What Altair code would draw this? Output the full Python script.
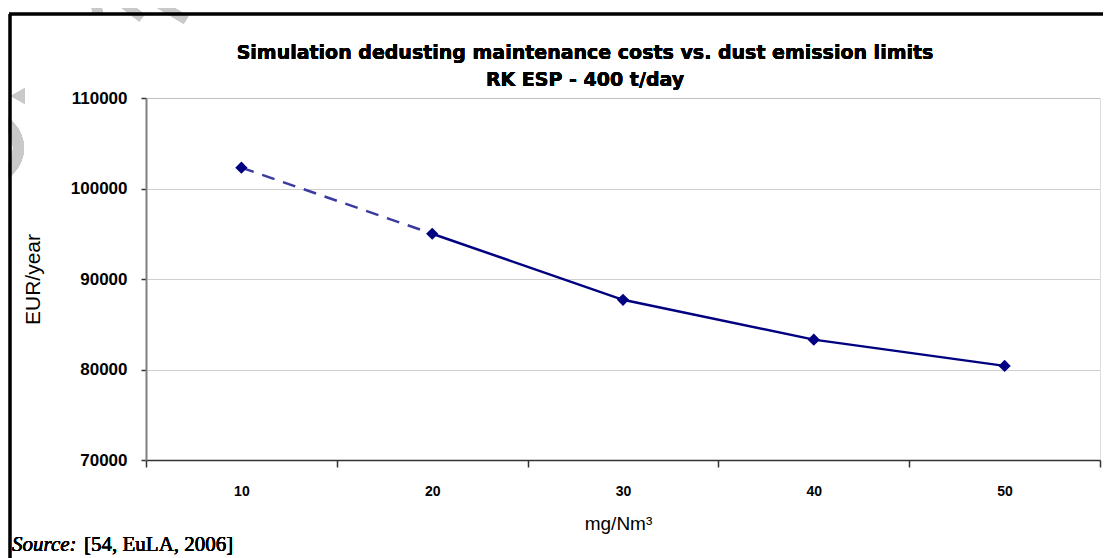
import altair as alt
import pandas as pd

x_labels = ["10", "20", "30", "40", "50"]
costs = [102300, 95000, 87700, 83300, 80400]
y_ticks = [70000, 80000, 90000, 100000, 110000]

title_line1 = "Simulation dedusting maintenance costs vs. dust emission limits"
title_line2 = "RK ESP - 400 t/day"
x_title = "mg/Nm³"
y_title = "EUR/year"
source_italic = "Source:"
source_rest = "[54, EuLA, 2006]"

df = pd.DataFrame({"x": x_labels, "cost": costs})
dash_df = df.iloc[:2]
solid_df = df.iloc[1:]

W, H = 954, 362
FONT = "Liberation Sans"
WM = "#c9c9c9"

xenc = alt.X(
    "x:N", sort=x_labels, bandPosition=0.5,
    scale=alt.Scale(type="band", domain=x_labels, paddingInner=0, paddingOuter=0),
    axis=alt.Axis(title=x_title, tickBand="extent", labelAngle=0, labelFont=FONT,
                  labelFontSize=14, labelFontWeight="bold", labelColor="#000",
                  tickSize=7, tickColor="#333", tickWidth=1.5, labelPadding=17,
                  domainColor="#333", domainWidth=1.5, grid=False,
                  titleFont=FONT, titleFontSize=19, titleFontWeight="normal",
                  titleColor="#000", titleX=W / 2 - 5, titleY=63, titleBaseline="middle",
                  titleAlign="center"),
)
yenc = alt.Y(
    "cost:Q",
    scale=alt.Scale(domain=[70000, 110000], nice=False, zero=False),
    axis=alt.Axis(title=y_title, values=y_ticks, format="d", labelFont=FONT,
                  labelFontSize=17, labelFontWeight="bold", labelColor="#000",
                  tickSize=5, tickColor="#333", tickWidth=1.5, labelPadding=14,
                  domainColor="#808080", domainWidth=2,
                  grid=True, gridColor="#a0a0a0", gridDash=[1, 1], gridWidth=1,
                  titleFont=FONT, titleFontSize=21, titleFontWeight="normal",
                  titleColor="#000", titleX=-113, titleY=H / 2, titleAngle=270,
                  titleAlign="center", titleBaseline="middle"),
)

# faint watermark fragments visible at the top-left corner of the page
wm_arc = alt.Chart(df).mark_arc(theta=0, theta2=3.1416, radius=36, radius2=25,
                                color=WM).encode(x=alt.value(-158), y=alt.value(50))
wm_tri = alt.Chart(df).mark_point(shape="triangle-left", filled=True, size=260,
                                  color=WM, opacity=1).encode(x=alt.value(-128), y=alt.value(-2))
wm_s1 = alt.Chart(df).mark_rule(color=WM, strokeWidth=10).encode(
    x=alt.value(-52), x2=alt.value(-48), y=alt.value(-104), y2=alt.value(-84))
wm_s2 = alt.Chart(df).mark_rule(color=WM, strokeWidth=9).encode(
    x=alt.value(-30), x2=alt.value(-4), y=alt.value(-100), y2=alt.value(-80))
wm_s3 = alt.Chart(df).mark_rule(color=WM, strokeWidth=9).encode(
    x=alt.value(0), x2=alt.value(40), y=alt.value(-102), y2=alt.value(-78))

dashed = alt.Chart(dash_df).mark_line(color="#3a3aa0", strokeWidth=2.5,
                                      strokeDash=[13, 9]).encode(x=xenc, y=yenc)
solid = alt.Chart(solid_df).mark_line(color="#000080", strokeWidth=2.5).encode(x=xenc, y=yenc)
points = alt.Chart(df).mark_point(shape="diamond", filled=True, size=150,
                                  color="#000080", opacity=1).encode(x=xenc, y=yenc)

border_left = alt.Chart(df).mark_rule(color="#000", strokeWidth=2.5).encode(
    x=alt.value(-136), y=alt.value(-84), y2=alt.value(470))
border_top = alt.Chart(df).mark_rule(color="#000", strokeWidth=2.5).encode(
    x=alt.value(-137), x2=alt.value(970), y=alt.value(-84))

t1 = alt.Chart(df).mark_text(text=title_line1, font="DejaVu Sans", fontSize=19, fontWeight="bold",
                             align="center", baseline="middle", color="#000").encode(
    x=alt.value(439), y=alt.value(-45))
t2 = alt.Chart(df).mark_text(text=title_line2, font="DejaVu Sans", fontSize=19, fontWeight="bold",
                             align="center", baseline="middle", color="#000").encode(
    x=alt.value(439), y=alt.value(-18))

src1 = alt.Chart(df).mark_text(text=source_italic, font="Liberation Serif", fontSize=21,
                               fontStyle="italic", align="left", baseline="alphabetic",
                               color="#000").encode(x=alt.value(-134), y=alt.value(453))
src2 = alt.Chart(df).mark_text(text=source_rest, font="Liberation Serif", fontSize=21,
                               align="left", baseline="alphabetic",
                               color="#000").encode(x=alt.value(-62), y=alt.value(453))

chart = alt.layer(wm_arc, wm_tri, wm_s1, wm_s2, wm_s3, dashed, solid, points,
                  border_left, border_top, t1, t2, src1, src2).properties(
    width=W, height=H,
    autosize=alt.AutoSizeParams(type="none"),
    padding={"left": 138, "top": 90, "right": 3, "bottom": 98},
).configure_view(stroke=None).configure(background="white")

chart.save("out.html", embed_options={"renderer": "svg", "actions": False})
